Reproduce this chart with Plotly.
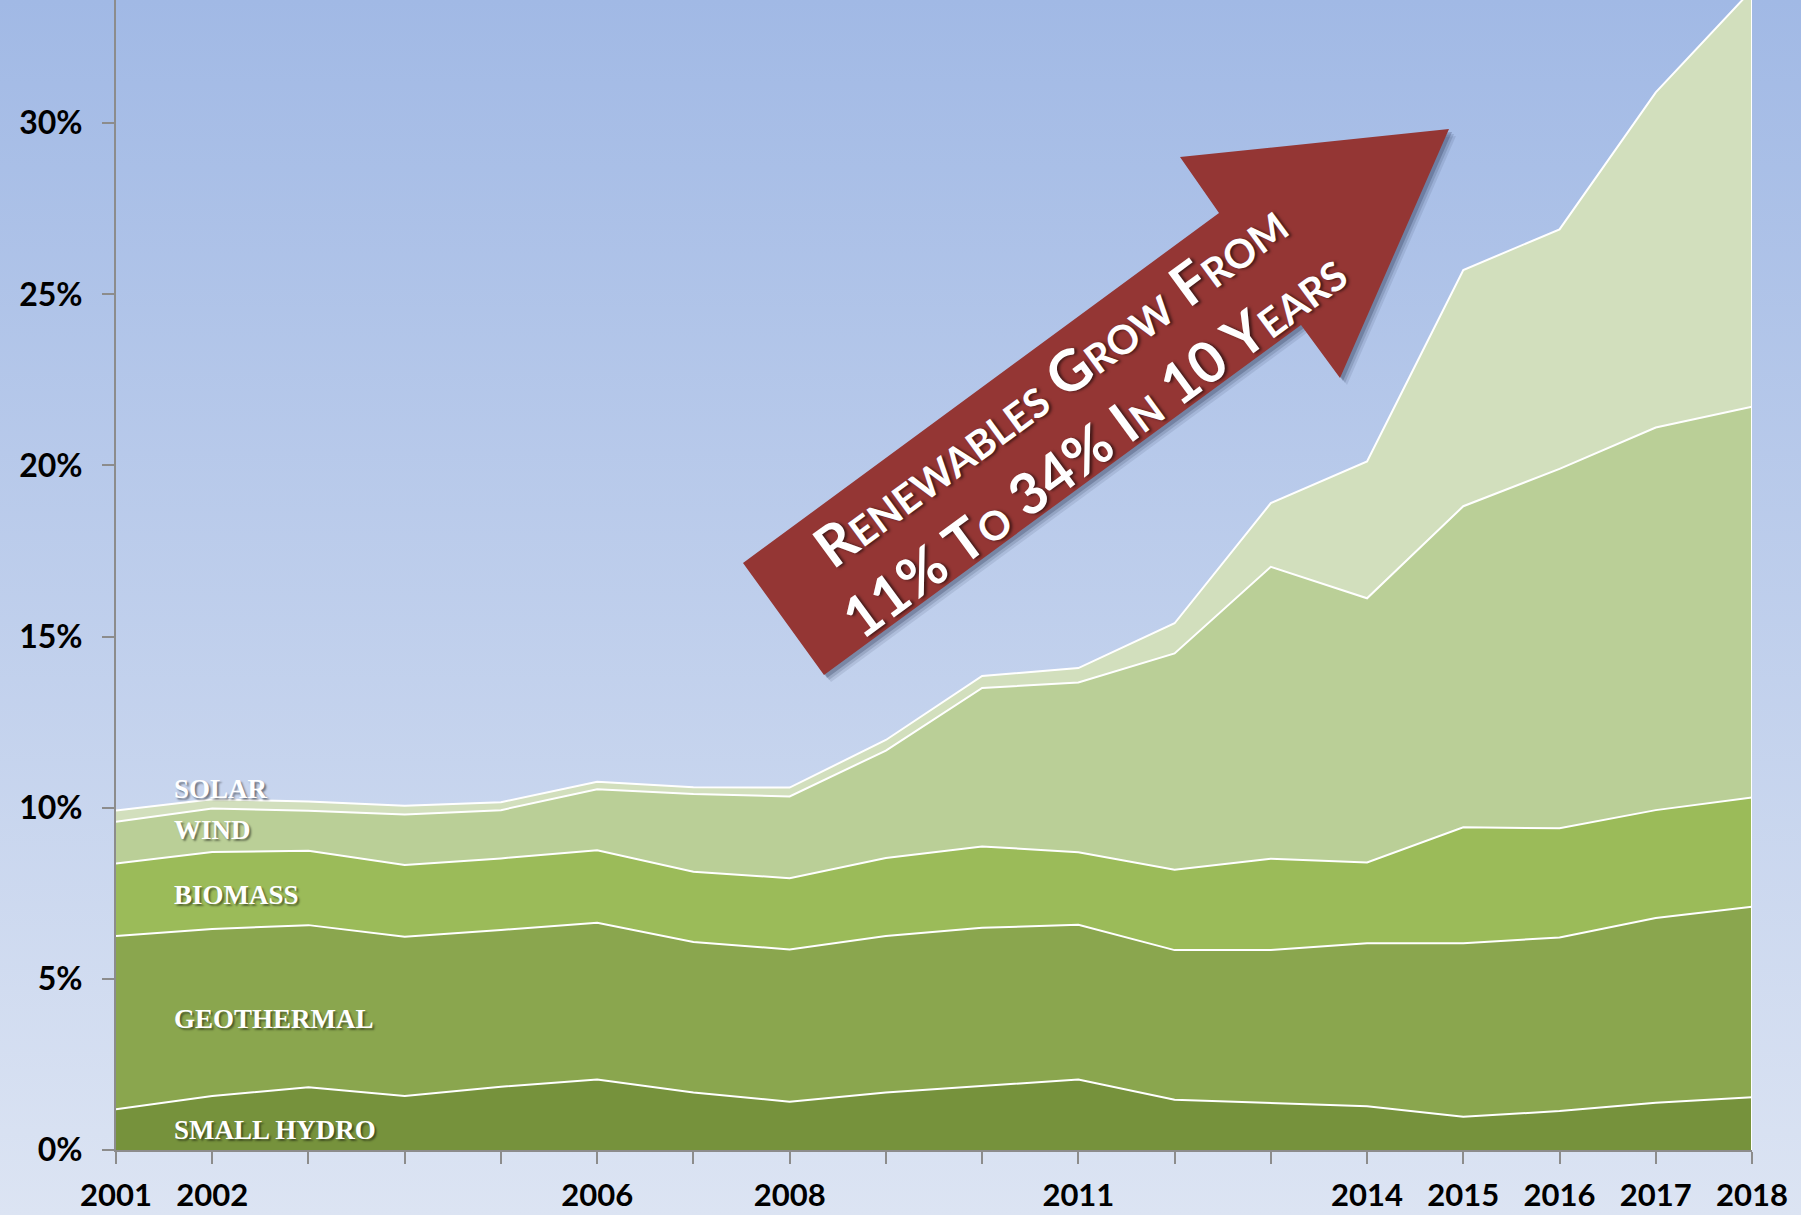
import base64

import plotly.graph_objects as go

# Share of retail electricity sales (%)
years = list(range(2001, 2019))
small_hydro = [1.19, 1.58, 1.83, 1.58, 1.85, 2.06, 1.68, 1.41, 1.68, 1.88, 2.06, 1.47, 1.38, 1.28, 0.97, 1.14, 1.38, 1.54]
geothermal = [5.06, 4.88, 4.74, 4.65, 4.58, 4.58, 4.40, 4.45, 4.57, 4.61, 4.52, 4.37, 4.46, 4.76, 5.07, 5.07, 5.40, 5.57]
biomass = [2.12, 2.25, 2.17, 2.10, 2.09, 2.12, 2.05, 2.08, 2.28, 2.38, 2.12, 2.35, 2.67, 2.36, 3.39, 3.19, 3.15, 3.19]
wind = [1.22, 1.27, 1.17, 1.47, 1.41, 1.78, 2.27, 2.39, 3.14, 4.63, 4.96, 6.32, 8.53, 7.72, 9.38, 10.50, 11.18, 11.42]
solar = [0.33, 0.27, 0.27, 0.26, 0.23, 0.22, 0.20, 0.26, 0.31, 0.35, 0.42, 0.88, 1.86, 4.00, 6.90, 7.00, 9.79, 12.18]

series_names = ["SMALL HYDRO", "GEOTHERMAL", "BIOMASS", "WIND", "SOLAR"]
series_colors = ["#76923C", "#8AA64E", "#9BBB59", "#BACF97", "#D2DFBD"]
labelled_years = [2001, 2002, 2006, 2008, 2011, 2014, 2015, 2016, 2017, 2018]
y_ticks = [0, 5, 10, 15, 20, 25, 30]

# figure geometry in pixels
W, H = 1801, 1215
ML, MR, MT, MB = 116, 49, 0, 65
PW, PH = W - ML - MR, H - MT - MB


def px(x, y):
    # pixel position -> paper coords
    return (x - ML) / PW, (H - MB - y) / PH


fig = go.Figure()
for name, values, color in zip(series_names, [small_hydro, geothermal, biomass, wind, solar], series_colors):
    fig.add_trace(
        go.Scatter(
            x=years,
            y=values,
            name=name,
            mode="lines",
            stackgroup="re",
            line=dict(color="white", width=2),
            fillcolor=color,
            showlegend=False,
            hoverinfo="skip",
        )
    )

# white edge on the right side of the stack
total_last = small_hydro[-1] + geothermal[-1] + biomass[-1] + wind[-1] + solar[-1]
fig.add_shape(
    type="line", x0=years[-1], x1=years[-1], y0=0, y1=total_last,
    line=dict(color="white", width=2), layer="above",
)

# background gradient
svg = (
    '<svg xmlns="http://www.w3.org/2000/svg" width="10" height="100" preserveAspectRatio="none">'
    '<defs><linearGradient id="g" x1="0" y1="0" x2="0" y2="1">'
    '<stop offset="0" stop-color="#A1B9E5"/><stop offset="1" stop-color="#DCE4F3"/>'
    '</linearGradient></defs><rect width="10" height="100" fill="url(#g)"/></svg>'
)
bg_src = "data:image/svg+xml;base64," + base64.b64encode(svg.encode()).decode()
x0, y0 = px(0, 0)
fig.add_layout_image(
    source=bg_src, xref="paper", yref="paper", x=x0, y=y0,
    sizex=W / PW, sizey=H / PH, sizing="stretch", layer="below",
    xanchor="left", yanchor="top",
)

# red arrow with a soft shadow
arrow_px = [(743, 563), (824, 675), (1301, 325), (1340, 378), (1449, 129), (1180, 157), (1219, 213)]


def arrow_path(dx=0, dy=0):
    pts = [px(x + dx, y + dy) for x, y in arrow_px]
    return "M " + " L ".join(f"{a:.5f},{b:.5f}" for a, b in pts) + " Z"


for k, a in [(7, 0.10), (5, 0.15), (3, 0.25)]:
    fig.add_shape(type="path", xref="paper", yref="paper", path=arrow_path(k, k),
                  fillcolor=f"rgba(30,40,70,{a})", line=dict(width=0), layer="above")
fig.add_shape(type="path", xref="paper", yref="paper", path=arrow_path(),
              fillcolor="#943634", line=dict(width=0), layer="above")

tx, ty = px(1071, 414)
fig.add_annotation(
    x=tx, y=ty, xref="paper", yref="paper", showarrow=False,
    text="Renewables Grow From<br>11% To 34% In 10 Years",
    textangle=-36.3, xanchor="center", yanchor="middle",
    font=dict(family="Lato", size=57, color="white", weight="bold",
              variant="small-caps", shadow="2px 2px 3px rgba(0,0,0,0.55)"),
)

# series labels
label_y = [0.58, 3.83, 7.45, 9.34, 10.54]
for name, yv in zip(series_names, label_y):
    fig.add_annotation(
        x=2001.58, y=yv, xanchor="left", yanchor="middle", showarrow=False,
        text=name,
        font=dict(family="Liberation Serif", size=27, color="white", weight="bold",
                  shadow="2px 2px 2px rgba(0,0,0,0.45)"),
    )

fig.update_layout(
    width=W,
    height=H,
    margin=dict(l=ML, r=MR, t=MT, b=MB, pad=0),
    paper_bgcolor="#DCE4F3",
    plot_bgcolor="rgba(0,0,0,0)",
    font=dict(family="Lato", color="black"),
    xaxis=dict(
        range=[years[0], years[-1]],
        tickvals=years,
        ticktext=[str(y) if y in labelled_years else "" for y in years],
        ticks="outside", ticklen=12, tickwidth=2, tickcolor="#8C8C8C",
        showline=True, linecolor="#8C8C8C", linewidth=2,
        showgrid=False, zeroline=False, automargin=False,
        tickfont=dict(size=31, weight="bold"),
        ticklabelstandoff=5,
    ),
    yaxis=dict(
        range=[0, 33.6],
        tickvals=y_ticks,
        ticktext=[f"{v}%" for v in y_ticks],
        ticks="outside", ticklen=12, tickwidth=2, tickcolor="#8C8C8C",
        showline=True, linecolor="#8C8C8C", linewidth=2,
        showgrid=False, zeroline=False, automargin=False,
        tickfont=dict(size=32, weight="bold"),
        ticklabelstandoff=13,
    ),
)

fig.write_html(
    "out.html",
    config={"displayModeBar": False},
    post_script="document.body.style.margin='0';",
)
